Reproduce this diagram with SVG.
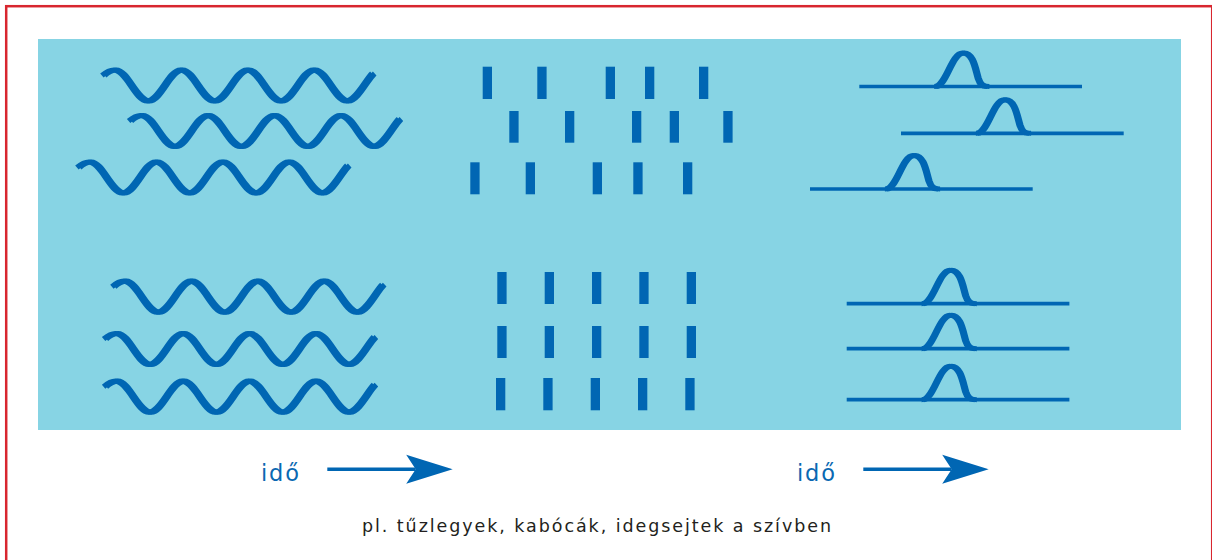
<svg xmlns="http://www.w3.org/2000/svg" xmlns:xlink="http://www.w3.org/1999/xlink" width="1212" height="560" viewBox="0 0 1212 560">
<style>
.wave{fill:none;stroke:#0066b3;stroke-width:5.2;stroke-linecap:butt;stroke-linejoin:round}
.base{fill:none;stroke:#0066b3;stroke-width:3.7}
.hump{fill:none;stroke:#0066b3;stroke-width:5;stroke-linecap:butt}
.tick{fill:#0066b3}
.lbl{font-family:"DejaVu Sans","Liberation Sans",sans-serif;font-size:22.5px;fill:#0a68b2}
.cap{font-family:"DejaVu Sans","Liberation Sans",sans-serif;font-size:17.5px;fill:#231f20}
.arr{stroke:#0066b3;stroke-width:3.4;fill:none}
</style>
<defs>
<path id="w1" class="wave" d="M-45,-10 C-41,-13.5 -37.5,-15.5 -33.2,-15.5 C-21.15,-15.5 -12.05,15.5 0,15.5 S21.15,-15.5 33.2,-15.5 S54.35,15.5 66.4,15.5 S87.55,-15.5 99.6,-15.5 S120.75,15.5 132.8,15.5 S153.95,-15.5 166,-15.5 S187.15,15.5 199.2,15.5 C208.5,15.5 218,-5.4 225,-12"/>
<g id="wave">
<use xlink:href="#w1" x="-1.4"/>
<use xlink:href="#w1" x="1.4"/>
</g>
<path id="h1" class="hump" d="M76,0 C87,0 92,-33.5 104,-33.5 C114,-33.5 116,-18 119,-8 C121,-2 123,0 129,0"/>
<g id="pulse">
<path class="base" d="M0,0 H222.7"/>
<use xlink:href="#h1" x="-1.1"/>
<use xlink:href="#h1" x="1.1"/>
</g>
<marker id="head" markerUnits="userSpaceOnUse" markerWidth="47" markerHeight="30" refX="9.5" refY="14.5" orient="auto" overflow="visible">
<path d="M0,0 L46.5,14.5 L0,29 L9.5,14.5 Z" fill="#0066b3"/>
</marker>
</defs>
<rect x="0" y="0" width="1212" height="560" fill="#ffffff"/>
<rect id="frame" x="6.2" y="6.2" width="1206" height="600" fill="none" stroke="#d8262f" stroke-width="2.5"/>
<rect id="panel" x="38" y="39" width="1143" height="391" fill="#87d4e4"/>

<g id="waves-top">
<use xlink:href="#wave" transform="translate(148.3,85.5)"/>
<use xlink:href="#wave" transform="translate(175,131)"/>
<use xlink:href="#wave" transform="translate(123.3,177.5)"/>
</g>
<g id="waves-bottom">
<use xlink:href="#wave" transform="translate(158.3,296.7)"/>
<use xlink:href="#wave" transform="translate(150,349)"/>
<use xlink:href="#wave" transform="translate(150,396.7)"/>
</g>

<g id="ticks-top">
<rect class="tick" x="482.7" y="66.7" width="9.3" height="32.3"/>
<rect class="tick" x="537.3" y="66.7" width="9.3" height="32.3"/>
<rect class="tick" x="605.7" y="66.7" width="9.3" height="32.3"/>
<rect class="tick" x="645" y="66.7" width="9.3" height="32.3"/>
<rect class="tick" x="699" y="66.7" width="9.3" height="32.3"/>
<rect class="tick" x="509.3" y="111" width="9.3" height="31.7"/>
<rect class="tick" x="565" y="111" width="9.3" height="31.7"/>
<rect class="tick" x="632" y="111" width="9.3" height="31.7"/>
<rect class="tick" x="669.7" y="111" width="9.3" height="31.7"/>
<rect class="tick" x="723.3" y="111" width="9.3" height="31.7"/>
<rect class="tick" x="470.3" y="162.3" width="9.3" height="32"/>
<rect class="tick" x="525.7" y="162.3" width="9.3" height="32"/>
<rect class="tick" x="592.7" y="162.3" width="9.3" height="32"/>
<rect class="tick" x="633.3" y="162.3" width="9.3" height="32"/>
<rect class="tick" x="683" y="162.3" width="9.3" height="32"/>
</g>
<g id="ticks-bottom">
<rect class="tick" x="497.3" y="272" width="9.3" height="32"/>
<rect class="tick" x="544.7" y="272" width="9.3" height="32"/>
<rect class="tick" x="592" y="272" width="9.3" height="32"/>
<rect class="tick" x="639.3" y="272" width="9.3" height="32"/>
<rect class="tick" x="686.7" y="272" width="9.3" height="32"/>
<rect class="tick" x="497.3" y="326" width="9.3" height="32"/>
<rect class="tick" x="544.7" y="326" width="9.3" height="32"/>
<rect class="tick" x="592" y="326" width="9.3" height="32"/>
<rect class="tick" x="639.3" y="326" width="9.3" height="32"/>
<rect class="tick" x="686.7" y="326" width="9.3" height="32"/>
<rect class="tick" x="496" y="378" width="9.3" height="32.3"/>
<rect class="tick" x="543.3" y="378" width="9.3" height="32.3"/>
<rect class="tick" x="590.7" y="378" width="9.3" height="32.3"/>
<rect class="tick" x="638" y="378" width="9.3" height="32.3"/>
<rect class="tick" x="685.3" y="378" width="9.3" height="32.3"/>
</g>

<g id="pulses-top">
<use xlink:href="#pulse" transform="translate(859.3,86.5)"/>
<use xlink:href="#pulse" transform="translate(901,133.3)"/>
<use xlink:href="#pulse" transform="translate(810,189)"/>
</g>
<g id="pulses-bottom">
<use xlink:href="#pulse" transform="translate(846.7,303.7)"/>
<use xlink:href="#pulse" transform="translate(846.7,348.7)"/>
<use xlink:href="#pulse" transform="translate(846.7,399.7)"/>
</g>

<g id="label-left"><text class="lbl" x="261" y="480.5" textLength="38" lengthAdjust="spacing">idő</text></g>
<g id="label-right"><text class="lbl" x="797" y="480.5" textLength="38" lengthAdjust="spacing">idő</text></g>
<g id="connectors">
<path class="arr" d="M327.3,469.3 H415.7" marker-end="url(#head)"/>
<path class="arr" d="M863.3,469.3 H951.7" marker-end="url(#head)"/>
</g>
<g id="caption"><text class="cap" x="362" y="532" textLength="469" lengthAdjust="spacing">pl. tűzlegyek, kabócák, idegsejtek a szívben</text></g>
</svg>
